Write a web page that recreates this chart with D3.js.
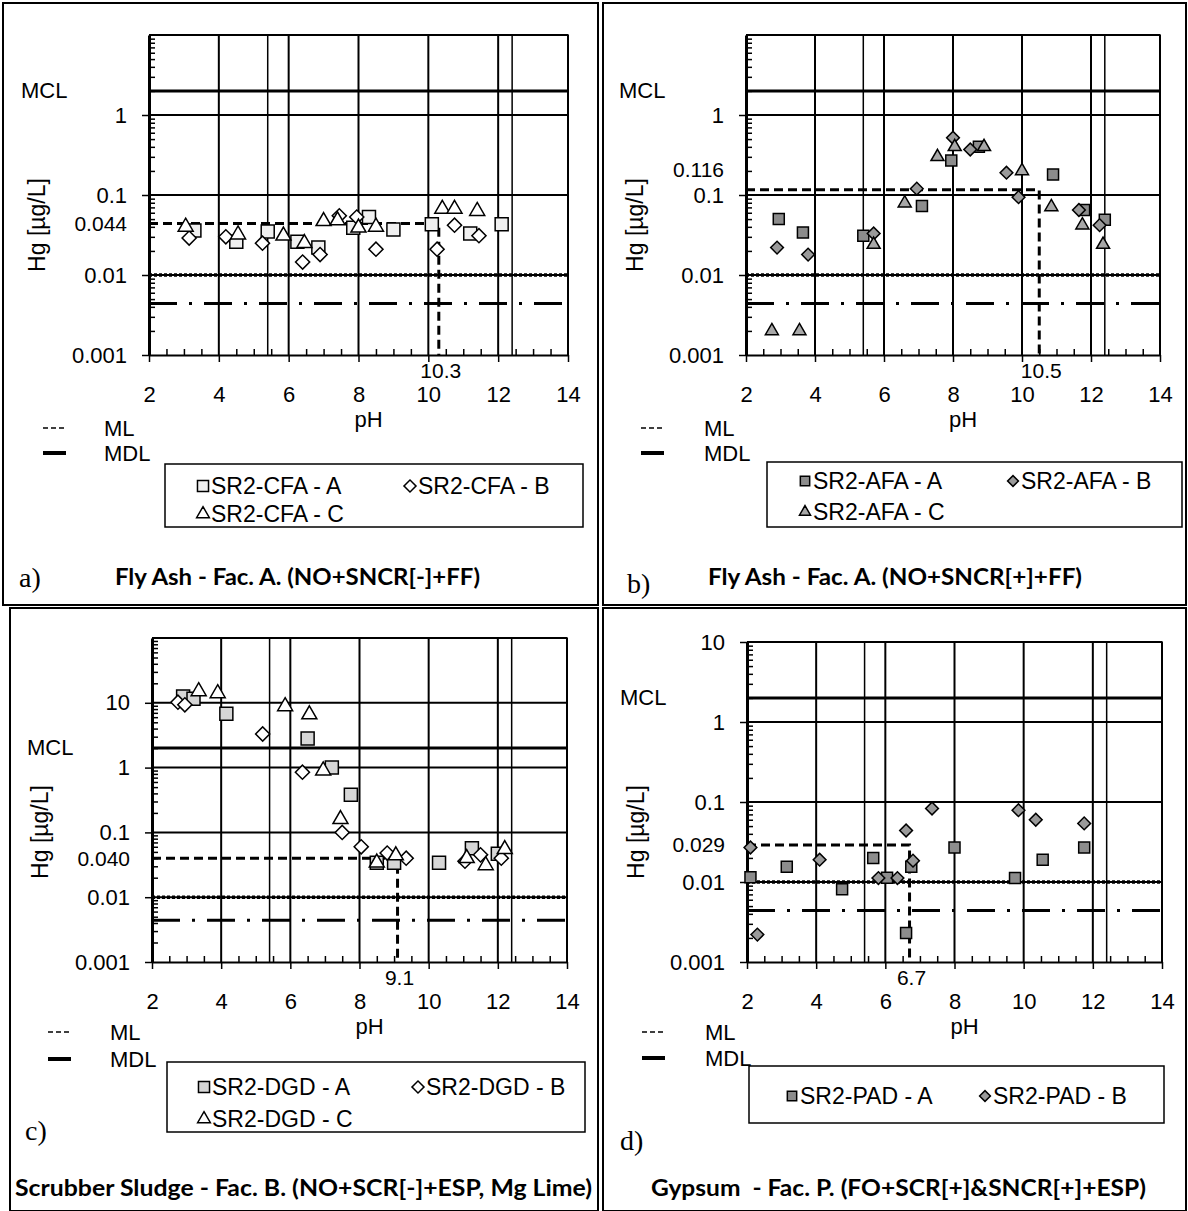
<!DOCTYPE html>
<html>
<head>
<meta charset="utf-8">
<script src="https://cdn.jsdelivr.net/npm/d3@7/dist/d3.min.js"></script>
<style>
  body { margin: 0; background: #fff; }
  svg text { font-family: "Liberation Sans", Arial, sans-serif; fill: #000; }
</style>
</head>
<body>
<div id="chart"></div>
<script>
// ---- data ----
var phTicks = [2, 4, 6, 8, 10, 12, 14];
var extraPH = [5.4, 12.4];
var MCL = 2, ML = 0.01, MDL = 0.0044;

// a) SR2-CFA  [pH, Hg ug/L]
var cfaA = [[3.3,0.036],[4.5,0.026],[5.4,0.035],[6.25,0.026],[6.85,0.022],[7.85,0.039],[8.3,0.053],[9.0,0.037],[10.1,0.043],[11.2,0.033],[12.1,0.043]];
var cfaB = [[3.15,0.029],[4.2,0.030],[5.25,0.025],[6.4,0.0145],[6.9,0.018],[7.45,0.055],[7.95,0.053],[8.5,0.021],[10.25,0.021],[10.75,0.042],[11.45,0.031]];
var cfaC = [[3.05,0.040],[4.55,0.032],[5.85,0.031],[6.45,0.025],[7.0,0.047],[7.4,0.048],[8.0,0.039],[8.5,0.040],[10.4,0.067],[10.75,0.067],[11.4,0.063]];

// b) SR2-AFA
var afaA = [[2.95,0.050],[3.65,0.034],[5.4,0.031],[7.1,0.073],[7.95,0.27],[8.75,0.40],[10.9,0.18],[11.8,0.065],[12.4,0.049]];
var afaB = [[2.9,0.022],[3.8,0.018],[5.7,0.033],[6.95,0.12],[8.0,0.52],[8.5,0.37],[9.55,0.19],[9.9,0.094],[11.65,0.065],[12.25,0.042]];
var afaC = [[2.75,0.002],[3.55,0.002],[5.7,0.024],[6.6,0.079],[7.55,0.30],[8.05,0.40],[8.9,0.40],[10.0,0.20],[10.85,0.071],[11.75,0.042],[12.35,0.024]];

// c) SR2-DGD
var dgdA = [[2.9,12.5],[3.2,11.5],[4.15,6.8],[6.5,2.8],[7.2,1.0],[7.75,0.38],[8.5,0.034],[9.0,0.034],[10.3,0.034],[11.25,0.057],[12.0,0.047]];
var dgdB = [[2.75,10.2],[2.95,9.3],[5.2,3.3],[6.35,0.85],[7.5,0.10],[8.05,0.060],[8.8,0.048],[9.35,0.040],[11.05,0.036],[11.5,0.045],[12.1,0.040]];
var dgdC = [[3.35,15],[3.9,14],[5.85,8.8],[6.55,6.6],[6.95,0.9],[7.45,0.16],[8.5,0.034],[9.05,0.044],[11.1,0.040],[11.65,0.031],[12.2,0.055]];

// d) SR2-PAD
var padA = [[2.1,0.0115],[3.15,0.0155],[4.75,0.0081],[5.65,0.020],[6.05,0.0113],[6.6,0.0023],[6.75,0.0155],[8.0,0.027],[9.75,0.0112],[10.55,0.019],[11.75,0.027]];
var padB = [[2.1,0.027],[2.3,0.0022],[4.1,0.019],[5.8,0.0112],[6.35,0.0112],[6.6,0.044],[6.8,0.0185],[7.35,0.083],[9.85,0.079],[10.35,0.060],[11.75,0.054]];

// reference (median) lines per panel
var refHg = [0.044, 0.116, 0.040, 0.029];
var refHgLabels = ["0.044", "0.116", "0.040", "0.029"];
var refPH = [10.3, 10.5, 9.1, 6.7];

var panelLetters = ["a)", "b)", "c)", "d)"];
var panelTitles = [
  "Fly Ash - Fac. A. (NO+SNCR[-]+FF)",
  "Fly Ash - Fac. A. (NO+SNCR[+]+FF)",
  "Scrubber Sludge - Fac. B. (NO+SCR[-]+ESP, Mg Lime)",
  "Gypsum  - Fac. P. (FO+SCR[+]&SNCR[+]+ESP)"
];

// ---- layout ----
var W = 1188, H = 1211;
var svg = d3.select("#chart").append("svg").attr("width", W).attr("height", H);

var panels = [
  { box: [3, 3, 598, 605], l: 149, r: 568, t: 35, b: 355, yMax: 10, yTicks: [0.001, 0.01, 0.1, 1], refDy: 0,
    mclX: 21, titleX: 37, titleY: 225, leg: [165, 464, 583, 527], legPos: [[203, 486], [410, 486], [203, 514]],
    lineX: 43, lineTxt: 104, mlY: 428, mdlY: 453, letter: [19, 577], title: [115, 577, 365],
    series: [
      { name: "SR2-CFA - A", data: cfaA, shape: "square", fill: "#f0f0f0", size: 13 },
      { name: "SR2-CFA - B", data: cfaB, shape: "diamond", fill: "#fff", size: 10 },
      { name: "SR2-CFA - C", data: cfaC, shape: "triangle", fill: "#fff", size: 15 }
    ] },
  { box: [603, 3, 1186, 605], l: 746, r: 1160, t: 35, b: 355, yMax: 10, yTicks: [0.001, 0.01, 0.1, 1], refDy: -20,
    mclX: 619, titleX: 635, titleY: 225, leg: [767, 462, 1182, 527], legPos: [[805, 481], [1013, 481], [805, 512]],
    lineX: 641, lineTxt: 704, mlY: 428, mdlY: 453, letter: [627, 583], title: [708, 577, 374],
    series: [
      { name: "SR2-AFA - A", data: afaA, shape: "square", fill: "#8c8c8c", size: 11 },
      { name: "SR2-AFA - B", data: afaB, shape: "diamond", fill: "#9a9a9a", size: 9 },
      { name: "SR2-AFA - C", data: afaC, shape: "triangle", fill: "#a8a8a8", size: 13 }
    ] },
  { box: [10, 608, 598, 1211], l: 152, r: 567, t: 638, b: 962, yMax: 100, yTicks: [0.001, 0.01, 0.1, 1, 10], refDy: 0,
    mclX: 27, titleX: 40, titleY: 832, leg: [167, 1062, 585, 1132], legPos: [[204, 1087], [418, 1087], [204, 1119]],
    lineX: 48, lineTxt: 110, mlY: 1032, mdlY: 1059, letter: [25, 1130], title: [15, 1188, 577],
    series: [
      { name: "SR2-DGD - A", data: dgdA, shape: "square", fill: "#d6d6d6", size: 13 },
      { name: "SR2-DGD - B", data: dgdB, shape: "diamond", fill: "#fff", size: 10 },
      { name: "SR2-DGD - C", data: dgdC, shape: "triangle", fill: "#fff", size: 15 }
    ] },
  { box: [603, 608, 1186, 1211], l: 747, r: 1162, t: 642, b: 962, yMax: 10, yTicks: [0.001, 0.01, 0.1, 1, 10], refDy: 0,
    mclX: 620, titleX: 636, titleY: 832, leg: [749, 1066, 1164, 1123], legPos: [[792, 1096], [985, 1096]],
    lineX: 642, lineTxt: 705, mlY: 1032, mdlY: 1058, letter: [620, 1140], title: [651, 1188, 495],
    series: [
      { name: "SR2-PAD - A", data: padA, shape: "square", fill: "#8c8c8c", size: 11 },
      { name: "SR2-PAD - B", data: padB, shape: "diamond", fill: "#9a9a9a", size: 9 }
    ] }
];

function symbolPath(shape, size) {
  if (shape === "triangle") {
    return d3.symbol().type(d3.symbolTriangle).size(size * size * 0.433)();
  }
  return d3.symbol().type(d3.symbolSquare).size(size * size)();
}

function drawMarker(sel, s, scale) {
  sel.attr("d", symbolPath(s.shape, s.size * scale))
    .attr("fill", s.fill)
    .attr("stroke", "#000")
    .attr("stroke-width", 1.5);
}

function drawPanel(p, i) {
  var g = svg.append("g");
  var x = d3.scaleLinear().domain([2, 14]).range([p.l, p.r]);
  var y = d3.scaleLog().domain([0.001, p.yMax]).range([p.b, p.t]);

  g.append("rect")
    .attr("x", p.box[0]).attr("y", p.box[1])
    .attr("width", p.box[2] - p.box[0]).attr("height", p.box[3] - p.box[1])
    .attr("fill", "none").attr("stroke", "#000").attr("stroke-width", 2);

  // vertical grid
  g.selectAll(".vg").data(phTicks.slice(1)).enter().append("line")
    .attr("x1", function (d) { return x(d); }).attr("x2", function (d) { return x(d); })
    .attr("y1", p.t).attr("y2", p.b)
    .attr("stroke", "#000").attr("stroke-width", 2);
  g.selectAll(".vx").data(extraPH).enter().append("line")
    .attr("x1", function (d) { return x(d); }).attr("x2", function (d) { return x(d); })
    .attr("y1", p.t).attr("y2", p.b)
    .attr("stroke", "#000").attr("stroke-width", 1.5);

  // horizontal grid at decades
  var decades = p.yTicks.slice(1).concat([p.yMax]);
  g.selectAll(".hg").data(decades).enter().append("line")
    .attr("x1", p.l).attr("x2", p.r)
    .attr("y1", function (d) { return y(d); }).attr("y2", function (d) { return y(d); })
    .attr("stroke", "#000").attr("stroke-width", 2);

  // limit lines
  g.append("line").attr("x1", p.l).attr("x2", p.r).attr("y1", y(MCL)).attr("y2", y(MCL))
    .attr("stroke", "#000").attr("stroke-width", 3);
  g.append("line").attr("x1", p.l).attr("x2", p.r).attr("y1", y(ML)).attr("y2", y(ML))
    .attr("stroke", "#000").attr("stroke-width", 3.5).attr("stroke-dasharray", "3,2");
  g.append("line").attr("x1", p.l).attr("x2", p.r).attr("y1", y(MDL)).attr("y2", y(MDL))
    .attr("stroke", "#000").attr("stroke-width", 3).attr("stroke-dasharray", "28,12,3,12");

  // median reference lines
  g.append("path")
    .attr("d", "M" + p.l + "," + y(refHg[i]) + "H" + x(refPH[i]) + "V" + p.b)
    .attr("fill", "none").attr("stroke", "#000").attr("stroke-width", 3).attr("stroke-dasharray", "9,5");

  // axes
  var minorY = [];
  for (var e = 0.001; e < p.yMax * 0.99; e *= 10) {
    for (var k = 2; k < 10; k++) minorY.push(e * k);
  }
  g.append("g").attr("transform", "translate(" + p.l + ",0)")
    .call(d3.axisLeft(y).tickValues(minorY).tickSize(-6).tickFormat(""))
    .call(function (a) { a.select(".domain").remove(); });
  var ya = g.append("g").attr("transform", "translate(" + p.l + ",0)")
    .call(d3.axisLeft(y).tickValues(p.yTicks).tickSize(7).tickSizeOuter(0).tickPadding(15)
      .tickFormat(function (d) { return String(d); }));
  ya.select(".domain").attr("stroke-width", 3);

  var minorX = d3.range(2.5, 14, 0.5).filter(function (d) { return d % 2 !== 0; });
  g.append("g").attr("transform", "translate(0," + p.b + ")")
    .call(d3.axisBottom(x).tickValues(minorX).tickSize(-6).tickFormat(""))
    .call(function (a) { a.select(".domain").remove(); });
  var xa = g.append("g").attr("transform", "translate(0," + p.b + ")")
    .call(d3.axisBottom(x).tickValues(phTicks).tickSize(7).tickSizeOuter(0).tickPadding(24));
  xa.select(".domain").attr("stroke-width", 2);

  g.selectAll(".tick line").attr("stroke", "#000").attr("stroke-width", 1.5);
  g.selectAll(".tick text").attr("font-size", 22).attr("fill", "#000")
    .style("font-family", "'Liberation Sans', Arial, sans-serif");

  // plot frame top/right
  g.append("path").attr("d", "M" + p.l + "," + p.t + "H" + p.r + "V" + p.b)
    .attr("fill", "none").attr("stroke", "#000").attr("stroke-width", 1.5);

  // markers
  p.series.forEach(function (s) {
    g.selectAll(null).data(s.data).enter().append("path")
      .attr("transform", function (d) {
        return "translate(" + x(d[0]) + "," + y(d[1]) + ")" + (s.shape === "diamond" ? " rotate(45)" : "");
      })
      .call(drawMarker, s, 1);
  });

  // text labels
  g.append("text").attr("x", p.l - 22).attr("y", y(refHg[i]) + p.refDy).attr("dy", "0.35em")
    .attr("text-anchor", "end").attr("font-size", 21).text(refHgLabels[i]);
  g.append("text").attr("x", x(refPH[i]) + 2).attr("y", p.b + 16).attr("dy", "0.35em")
    .attr("text-anchor", "middle").attr("font-size", 21).text(String(refPH[i]));
  g.append("text").attr("x", p.mclX).attr("y", y(MCL) - 1).attr("dy", "0.35em")
    .attr("font-size", 22).text("MCL");
  g.append("text").attr("transform", "translate(" + p.titleX + "," + p.titleY + ") rotate(-90)")
    .attr("text-anchor", "middle").attr("dy", "0.35em").attr("font-size", 23).text("Hg [\u00b5g/L]");
  g.append("text").attr("x", (p.l + p.r) / 2 + 10).attr("y", p.b + 64).attr("dy", "0.35em")
    .attr("text-anchor", "middle").attr("font-size", 22).text("pH");

  // ML / MDL key
  g.append("line").attr("x1", p.lineX).attr("x2", p.lineX + 22).attr("y1", p.mlY).attr("y2", p.mlY)
    .attr("stroke", "#000").attr("stroke-width", 1.5).attr("stroke-dasharray", "5,3");
  g.append("line").attr("x1", p.lineX).attr("x2", p.lineX + 23).attr("y1", p.mdlY).attr("y2", p.mdlY)
    .attr("stroke", "#000").attr("stroke-width", 4);
  g.append("text").attr("x", p.lineTxt).attr("y", p.mlY).attr("dy", "0.35em").attr("font-size", 22).text("ML");
  g.append("text").attr("x", p.lineTxt).attr("y", p.mdlY).attr("dy", "0.35em").attr("font-size", 22).text("MDL");

  // series legend
  g.append("rect").attr("x", p.leg[0]).attr("y", p.leg[1])
    .attr("width", p.leg[2] - p.leg[0]).attr("height", p.leg[3] - p.leg[1])
    .attr("fill", "#fff").attr("stroke", "#000").attr("stroke-width", 1.5);
  p.series.forEach(function (s, j) {
    var pos = p.legPos[j];
    g.append("path")
      .attr("transform", "translate(" + pos[0] + "," + pos[1] + ")" + (s.shape === "diamond" ? " rotate(45)" : ""))
      .call(drawMarker, s, 0.85);
    g.append("text").attr("x", pos[0] + 8).attr("y", pos[1]).attr("dy", "0.35em")
      .attr("font-size", 23).text(s.name);
  });

  // panel letter and title
  g.append("text").attr("x", p.letter[0]).attr("y", p.letter[1]).attr("dy", "0.35em")
    .attr("font-size", 28).style("font-family", "'Liberation Serif', 'Times New Roman', serif").text(panelLetters[i]);
  g.append("text").attr("x", p.title[0]).attr("y", p.title[1]).attr("dy", "0.35em")
    .attr("font-size", 23).attr("font-weight", "bold").style("white-space", "pre")
    .attr("textLength", p.title[2]).attr("lengthAdjust", "spacingAndGlyphs")
    .style("font-family", "Lato, 'Open Sans', sans-serif").text(panelTitles[i]);
}

panels.forEach(drawPanel);
</script>
</body>
</html>
